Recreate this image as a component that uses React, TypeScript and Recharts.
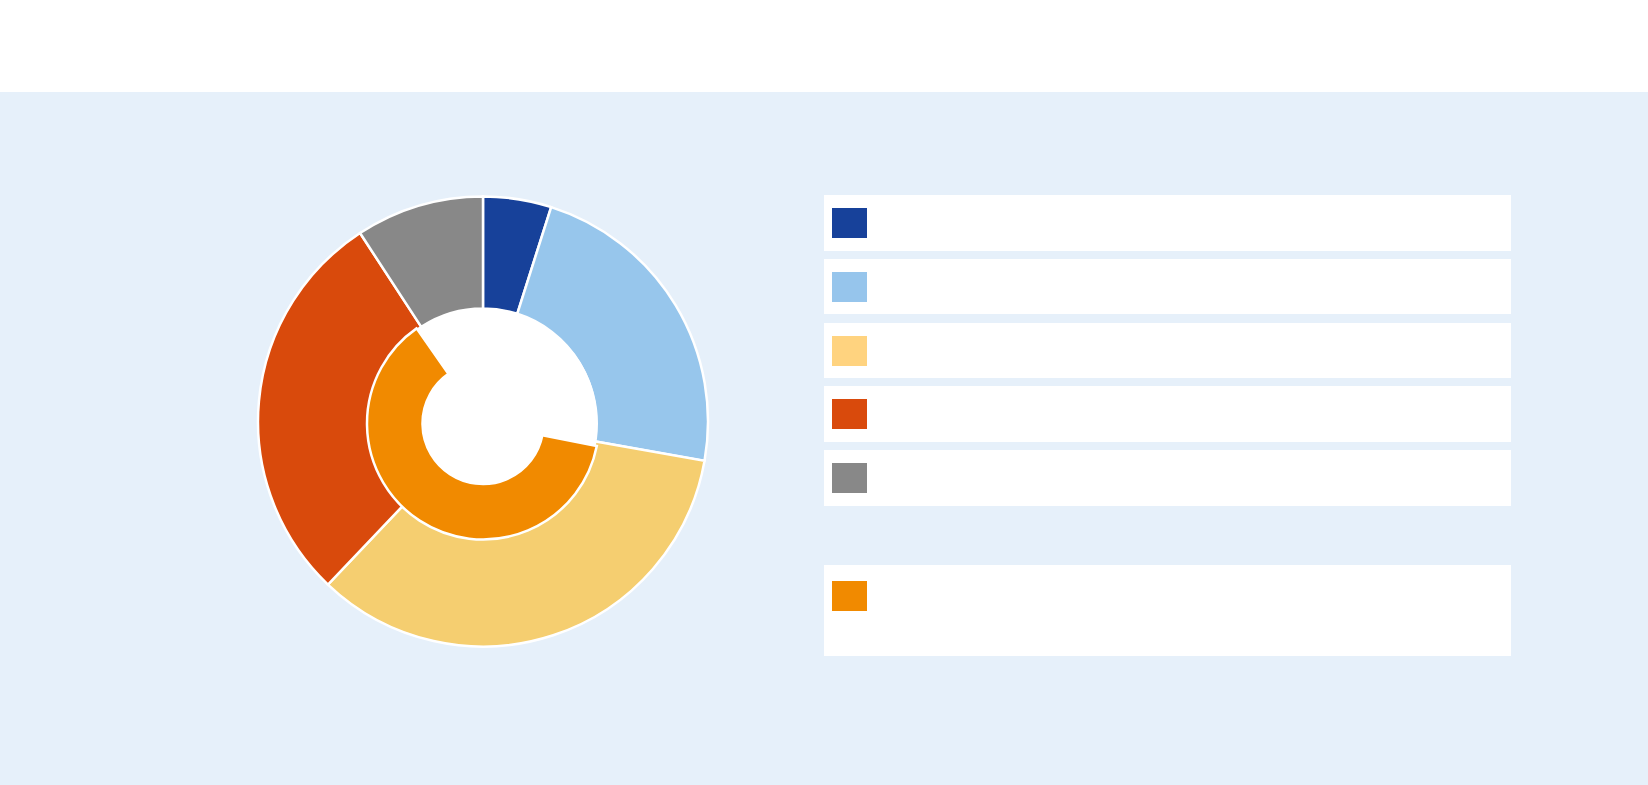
import React from 'react';
import { PieChart, Pie, Cell, Legend } from 'recharts';

// Outer ring segments (share of total, %)
const outerNames = ['Segment 1', 'Segment 2', 'Segment 3', 'Segment 4', 'Segment 5'];
const outerValues = [4.9, 22.9, 34.3, 28.7, 9.2];
const outerColors = ['#17419A', '#97C6EC', '#F5CE70', '#D94A0C', '#888888'];
const outerLegendColors = ['#17419A', '#96C5EC', '#FFD37F', '#D94A0C', '#888888'];

// Inner ring: one highlighted share, rest blank
const innerNames = ['blank-a', 'Highlighted', 'blank-b'];
const innerValues = [28.1, 62.2, 9.7];
const innerColors = ['transparent', '#F18A00', 'transparent'];
const innerLegendColor = '#F18A00';

const outerData = outerNames.map((name, i) => ({ name, value: outerValues[i] }));
const innerData = innerNames.map((name, i) => ({ name, value: innerValues[i] }));
const discData = [{ name: 'disc', value: 1 }];

const W = 1648;
const H = 785;
const CX = 483;
const CY = 421.5;
const CY_IN = 423.5;

const LegendContent = () => {
  const rowTops = [0, 63.75, 127.5, 191.25, 255];
  return (
    <div style={{ position: 'relative', width: 687, height: 461 }}>
      {outerLegendColors.map((c, i) => (
        <div
          key={i}
          style={{
            position: 'absolute',
            left: 0,
            top: rowTops[i],
            width: 687,
            height: 55.7,
            background: '#FFFFFF',
          }}
        >
          <div style={{ position: 'absolute', left: 8, top: 13, width: 35, height: 30, background: c }} />
        </div>
      ))}
      <div
        style={{
          position: 'absolute',
          left: 0,
          top: 369.5,
          width: 687,
          height: 91.3,
          background: '#FFFFFF',
        }}
      >
        <div style={{ position: 'absolute', left: 8, top: 16.5, width: 35, height: 30, background: innerLegendColor }} />
      </div>
    </div>
  );
};

export default function App() {
  return (
    <div style={{ position: 'absolute', left: 0, top: 0, width: W, height: H, background: '#FFFFFF', overflow: 'hidden' }}>
      <div style={{ position: 'absolute', left: 0, top: 92, width: W, height: H - 92, background: '#E6F0FA' }} />
      <div style={{ position: 'absolute', left: 0, top: 0 }}>
        <PieChart width={W} height={H} margin={{ top: 0, right: 0, bottom: 0, left: 0 }}>
          <Pie
            data={outerData}
            dataKey="value"
            cx={CX}
            cy={CY}
            innerRadius={113}
            outerRadius={225}
            startAngle={90}
            endAngle={-270}
            stroke="#FFFFFF"
            strokeWidth={2.5}
            isAnimationActive={false}
          >
            {outerData.map((d, i) => (
              <Cell key={d.name} fill={outerColors[i]} />
            ))}
          </Pie>
          <Pie
            data={discData}
            dataKey="value"
            cx={CX}
            cy={CY_IN}
            innerRadius={0}
            outerRadius={115}
            startAngle={90}
            endAngle={-270}
            fill="#FFFFFF"
            stroke="none"
            legendType="none"
            isAnimationActive={false}
          />
          <Pie
            data={innerData}
            dataKey="value"
            cx={CX}
            cy={CY_IN}
            innerRadius={60.5}
            outerRadius={116}
            startAngle={90}
            endAngle={-270}
            stroke="none"
            legendType="none"
            isAnimationActive={false}
          >
            {innerData.map((d, i) => (
              <Cell
                key={d.name}
                fill={innerColors[i]}
                stroke={i === 1 ? '#FFFFFF' : 'none'}
                strokeWidth={2.5}
              />
            ))}
          </Pie>
          <Legend
            content={<LegendContent />}
            wrapperStyle={{ position: 'absolute', left: 824, top: 195, width: 687, height: 461 }}
          />
        </PieChart>
      </div>
    </div>
  );
}
